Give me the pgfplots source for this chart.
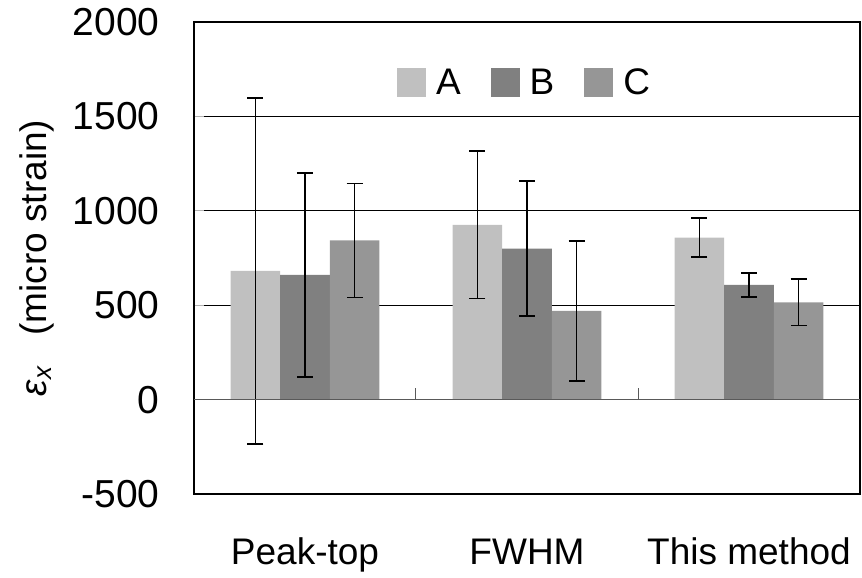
\documentclass[border=0pt]{standalone}
\usepackage{pgfplots}
\pgfplotsset{compat=1.18}
\usepackage{fontspec}
\setmainfont{Liberation Sans}

\definecolor{serA}{HTML}{C0C0C0}
\definecolor{serB}{HTML}{808080}
\definecolor{serC}{HTML}{969696}

\begin{document}
\begin{tikzpicture}
  % picture size 862 x 578 (1pt ~ 1px)
  \useasboundingbox (-194pt,-84pt) rectangle (668pt,494pt);
  \begin{axis}[
      scale only axis,
      width=666pt, height=472pt,
      xmin=0.5, xmax=3.5,
      ymin=-500, ymax=2000,
      ytick={-500,500,1000,1500,2000},
      extra y ticks={0},
      extra y tick style={grid=none},
      ymajorgrids,
      grid style={black, line width=1pt},
      axis line style={black, line width=2.8pt},
      xtick={1,2,3},
      xticklabels={Peak-top, FWHM, This method},
      xtick style={draw=none},
      ytick style={gray!60, line width=1pt},
      major tick length=10pt,
      tick align=inside,
      tick pos=left,
      /pgf/number format/assume math mode=true,
      /pgf/number format/set thousands separator={},
      tick label style={font=\fontsize{37}{40}\selectfont},
      yticklabel style={font=\fontsize{39}{42}\selectfont, xshift=-31pt},
      xticklabel style={anchor=base, yshift=-60pt},
      ylabel={\textit{ε}\textsubscript{\textit{x}}\hspace{0.8em}(micro strain)},
      every axis y label/.style={at={(rel axis cs:0,0.5)}, rotate=90,
        anchor=center, yshift=157pt, font=\fontsize{37}{40}\selectfont},
      ybar,
      bar width=0.223,
      clip=false,
      legend columns=-1,
      legend style={at={(axis cs:1.989,1680)}, anchor=center, draw=none, fill=none,
        font=\fontsize{37}{40}\selectfont,
        /tikz/every odd column/.append style={column sep=8pt},
        /tikz/every even column/.append style={column sep=28pt}},
      legend image code/.code={\fill[#1] (0pt,-14.5pt) rectangle (29pt,14.5pt);},
      error bars/y dir=both,
      error bars/y explicit,
      error bars/error bar style={black, line width=1.8pt},
      error bars/error mark options={black, line width=1.8pt, mark size=8pt, rotate=90},
    ]
    \addplot[fill=serA, draw=none, bar shift=-0.223] coordinates {
      (1,682) +- (0,917)
      (2,925) +- (0,390)
      (3,858) +- (0,102)
    };
    \addlegendentry{A}
    \addplot[fill=serB, draw=none, bar shift=0] coordinates {
      (1,660) +- (0,541)
      (2,800) +- (0,357)
      (3,607) +- (0,63)
    };
    \addlegendentry{B}
    \addplot[fill=serC, draw=none, bar shift=0.223] coordinates {
      (1,843) +- (0,302)
      (2,470) +- (0,372)
      (3,515) +- (0,123)
    };
    \addlegendentry{C}
    % zero line and category separators
    \draw[gray!70!black, line width=1pt] (axis cs:0.5,0) -- (axis cs:3.5,0);
    \draw[gray!70!black, line width=1pt] (axis cs:1.5,0) -- ([yshift=12pt]axis cs:1.5,0);
    \draw[gray!70!black, line width=1pt] (axis cs:2.5,0) -- ([yshift=12pt]axis cs:2.5,0);
  \end{axis}
\end{tikzpicture}
\end{document}
